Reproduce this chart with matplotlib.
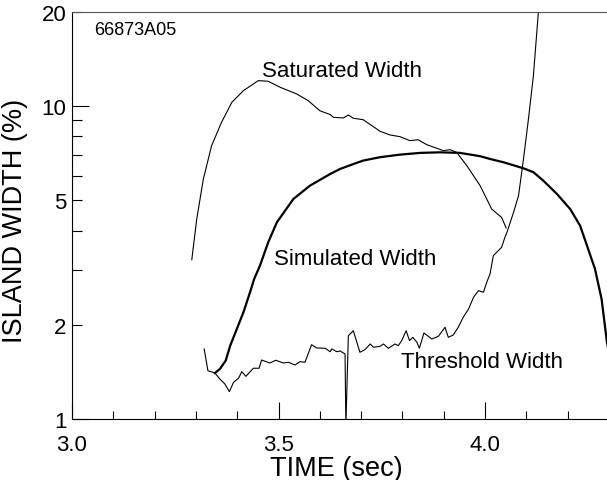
import numpy as np
import matplotlib
matplotlib.use("Agg")
import matplotlib.pyplot as plt
from matplotlib.ticker import FixedLocator, FixedFormatter

plt.rcParams['font.family'] = ['Liberation Sans', 'DejaVu Sans']

# Saturated width (thin line)
sat_t = [3.290, 3.302, 3.318, 3.338, 3.362, 3.387, 3.415, 3.451, 3.475, 3.504,
         3.544, 3.572, 3.600, 3.625, 3.633, 3.657, 3.669, 3.681, 3.705, 3.746,
         3.770, 3.794, 3.818, 3.838, 3.859, 3.899, 3.915, 3.931, 3.956, 3.988,
         4.016, 4.040, 4.051]
sat_w = [3.23, 4.36, 5.85, 7.48, 8.88, 10.29, 11.21, 12.07, 12.01, 11.49,
         10.94, 10.41, 9.67, 9.40, 9.21, 9.17, 9.37, 9.15, 9.05, 8.31,
         8.09, 7.99, 7.76, 7.81, 7.53, 7.21, 7.26, 7.12, 6.45, 5.57,
         4.69, 4.41, 4.08]

# Threshold width (thin line)
thr_t = [3.320, 3.329, 3.346, 3.358, 3.370, 3.381, 3.391, 3.403, 3.411, 3.421,
         3.439, 3.453, 3.459, 3.479, 3.493, 3.512, 3.524, 3.540, 3.552, 3.564,
         3.580, 3.592, 3.613, 3.625, 3.629, 3.641, 3.649, 3.657, 3.661, 3.663,
         3.669, 3.681, 3.697, 3.709, 3.722, 3.730, 3.746, 3.754, 3.766, 3.782,
         3.790, 3.798, 3.809, 3.817, 3.825, 3.835, 3.841, 3.852, 3.871, 3.887,
         3.903, 3.911, 3.923, 3.935, 3.947, 3.960, 3.972, 3.984, 3.996, 4.004,
         4.012, 4.020, 4.040, 4.048, 4.053, 4.069, 4.081, 4.093, 4.105, 4.117,
         4.129, 4.135]
thr_w = [1.675, 1.427, 1.403, 1.342, 1.294, 1.223, 1.310, 1.349, 1.417, 1.369,
         1.453, 1.453, 1.544, 1.510, 1.541, 1.510, 1.518, 1.488, 1.525, 1.518,
         1.728, 1.687, 1.683, 1.641, 1.675, 1.641, 1.650, 1.625, 1.614, 0.95,
         1.846, 1.915, 1.634, 1.666, 1.737, 1.695, 1.708, 1.737, 1.683, 1.737,
         1.716, 1.780, 1.915, 1.780, 1.824, 1.759, 1.683, 1.884, 1.802, 1.838,
         1.964, 1.824, 1.856, 1.964, 2.114, 2.247, 2.449, 2.572, 2.542, 2.735,
         2.908, 3.327, 3.539, 3.809, 3.953, 4.579, 5.175, 6.78, 9.10, 12.52,
         19.96, 24.0]

# Simulated width (thick line)
sim_t = [3.346, 3.358, 3.372, 3.383, 3.399, 3.415, 3.431, 3.441, 3.455, 3.475,
         3.496, 3.536, 3.576, 3.625, 3.649, 3.681, 3.705, 3.746, 3.794, 3.843,
         3.891, 3.939, 3.988, 4.012, 4.044, 4.093, 4.117, 4.141, 4.174, 4.206,
         4.230, 4.244, 4.266, 4.282, 4.295, 4.310]
sim_w = [1.403, 1.445, 1.536, 1.716, 1.940, 2.193, 2.542, 2.803, 3.091, 3.672,
         4.255, 5.051, 5.570, 6.07, 6.30, 6.53, 6.70, 6.87, 7.00, 7.09,
         7.12, 7.09, 6.92, 6.78, 6.62, 6.33, 6.15, 5.78, 5.24, 4.69,
         4.15, 3.67, 3.02, 2.42, 1.76, 1.40]

fig = plt.figure(figsize=(6.07, 4.81), dpi=100)
ax = fig.add_axes([72/607, 61/481, 537/607, 407/481])

ax.plot(sat_t, sat_w, color='black', lw=0.8)
ax.plot(thr_t, thr_w, color='black', lw=0.8)
ax.plot(sim_t, sim_w, color='black', lw=1.6)

ax.set_yscale('log')
ax.set_xlim(3.0, 4.3)
ax.set_ylim(1, 20)

# x ticks
ax.set_xticks([3.0, 3.5, 4.0])
ax.set_xticklabels(['3.0', '3.5', '4.0'])
ax.xaxis.set_minor_locator(FixedLocator([3.1, 3.2, 3.3, 3.4, 3.6, 3.7, 3.8, 3.9, 4.1, 4.2]))

# y ticks: long at 1 and 10, short elsewhere
ax.yaxis.set_major_locator(FixedLocator([1, 10]))
ax.yaxis.set_major_formatter(FixedFormatter(['1', '10']))
ymin = [2, 3, 4, 5, 6, 7, 8, 9, 20]
ax.yaxis.set_minor_locator(FixedLocator(ymin))
ax.yaxis.set_minor_formatter(FixedFormatter(['2', '', '', '5', '', '', '', '', '20']))

ax.tick_params(axis='both', which='both', direction='in', labelsize=16, width=0.8)
ax.tick_params(axis='x', which='major', length=12, pad=11)
ax.tick_params(axis='x', which='minor', length=6)
ax.tick_params(axis='y', which='major', length=12, pad=4)
ax.tick_params(axis='y', which='minor', length=7, pad=4)
ax.tick_params(top=False, right=False, which='both')

ax.spines['right'].set_visible(False)
for s in ['left', 'bottom', 'top']:
    ax.spines[s].set_linewidth(0.8)
ax.spines['top'].set_color('#555555')

ax.set_xlabel('TIME (sec)', fontsize=19.5)
ax.xaxis.set_label_coords((336 - 72) / 537, -0.088)
ax.set_ylabel('ISLAND WIDTH (%)', fontsize=19.5)
ax.yaxis.set_label_coords(-0.082, 0.49)

ax.text(3.46, 13.0, 'Saturated Width', fontsize=16, ha='left', va='center')
ax.text(3.489, 3.26, 'Simulated Width', fontsize=16, ha='left', va='center')
ax.text(3.797, 1.53, 'Threshold Width', fontsize=16, ha='left', va='center')
ax.text(0.041, 0.958, '66873A05', fontsize=13, ha='left', va='center',
        transform=ax.transAxes)

fig.savefig('out.png', dpi=100)
